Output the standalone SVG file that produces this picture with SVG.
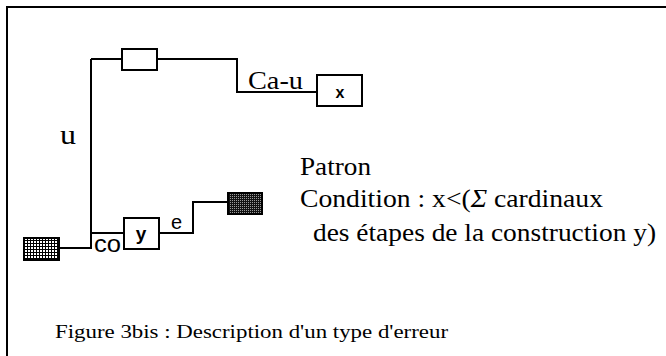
<svg xmlns="http://www.w3.org/2000/svg" width="666" height="356" viewBox="0 0 666 356">
<style>
.ln{fill:none;stroke:#000;stroke-width:2}
.bx{fill:#fff;stroke:#000;stroke-width:2}
.tm{font-family:"Liberation Serif","Times New Roman",serif;fill:#000}
.sn{font-family:"Liberation Sans",Arial,sans-serif;fill:#000}
.bd{font-family:"Liberation Sans",Arial,sans-serif;font-weight:bold;fill:#000}
</style>
<defs>
<pattern id="grid" width="3" height="3" patternUnits="userSpaceOnUse">
<rect width="3" height="3" fill="#fff"/>
<path d="M0 0.5H3M0.5 0V3" stroke="#000" stroke-width="1"/>
</pattern>
<pattern id="dots" width="2" height="2" patternUnits="userSpaceOnUse">
<rect width="2" height="2" fill="#111"/>
<rect width="1" height="1" fill="#999"/>
</pattern>
</defs>
<rect width="666" height="356" fill="#fff"/>
<path class="ln" d="M7 356V7H666"/>
<g id="connectors">
<path class="ln" d="M91 59H121"/>
<path class="ln" d="M157 59H237V92H317"/>
<path class="ln" d="M59 248H91V59"/>
<path class="ln" d="M91 233H124"/>
<path class="ln" d="M159 233H193V202H227"/>
<text class="tm" x="60" y="144" font-size="27" textLength="16" lengthAdjust="spacingAndGlyphs">u</text>
<text class="tm" x="248" y="89" font-size="25" textLength="55" lengthAdjust="spacingAndGlyphs">Ca-u</text>
<text class="sn" x="94" y="252" font-size="24" textLength="27" lengthAdjust="spacingAndGlyphs">co</text>
<text class="sn" x="171" y="229" font-size="20">e</text>
</g>
<g id="top-box"><rect class="bx" x="122" y="49" width="35" height="21"/></g>
<g id="box-x"><rect class="bx" x="317" y="75" width="45" height="31"/><text class="bd" x="340" y="98" font-size="16" text-anchor="middle">x</text></g>
<g id="box-y"><rect class="bx" x="124" y="218" width="35" height="31"/><text class="bd" x="141" y="240" font-size="19" text-anchor="middle">y</text></g>
<g id="grid-box"><rect x="24" y="238" width="35" height="22" fill="url(#grid)" stroke="#000" stroke-width="2"/></g>
<g id="dark-box"><rect x="228" y="193" width="34" height="21" fill="url(#dots)" stroke="#000" stroke-width="2"/></g>
<g id="notes">
<text class="tm" x="300" y="175" font-size="26" textLength="71" lengthAdjust="spacingAndGlyphs">Patron</text>
<text class="tm" x="300" y="207" font-size="26" textLength="303" lengthAdjust="spacingAndGlyphs">Condition : x&lt;(<tspan font-style="italic">Σ</tspan> cardinaux</text>
<text class="tm" x="313" y="241" font-size="26" textLength="343" lengthAdjust="spacingAndGlyphs">des étapes de la construction y)</text>
<text class="tm" x="55" y="338" font-size="19" textLength="393" lengthAdjust="spacingAndGlyphs">Figure 3bis : Description d'un type d'erreur</text>
</g>
</svg>
